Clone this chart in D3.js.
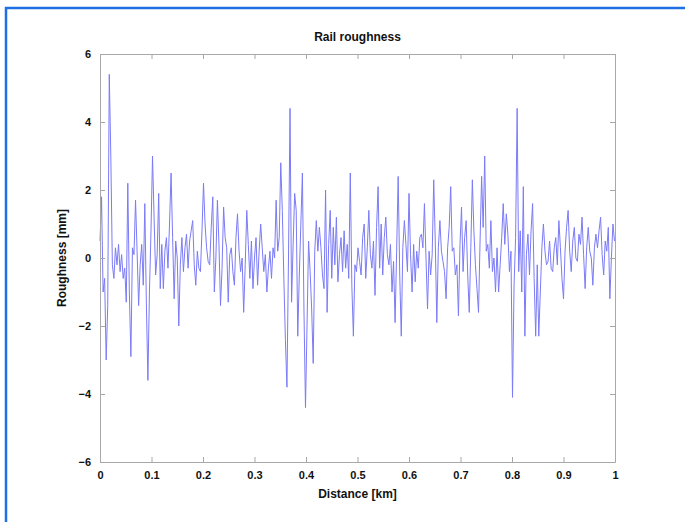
<!DOCTYPE html>
<html>
<head>
<meta charset="utf-8">
<script src="https://cdn.jsdelivr.net/npm/d3@7"></script>
<style>
  body { margin: 0; background: #fff; }
  svg { display: block; }
  text { font-family: "Liberation Sans", Arial, sans-serif; fill: #111; }
</style>
</head>
<body>
<svg id="chart"></svg>
<script>
// Track positions, metres (one sample every 3 m)
const distanceM = [
  0,3,6,9,12,15,18,21,24,27,30,33,36,39,42,45,48,51,54,57,60,63,66,69,72,75,78,81,84,87,
  90,93,96,99,102,105,108,111,114,117,120,123,126,129,132,135,138,141,144,147,150,153,156,159,162,165,168,171,174,177,
  180,183,186,189,192,195,198,201,204,207,210,213,216,219,222,225,228,231,234,237,240,243,246,249,252,255,258,261,264,267,
  270,273,276,279,282,285,288,291,294,297,300,303,306,309,312,315,318,321,324,327,330,333,336,339,342,345,348,351,354,357,
  360,363,366,369,372,375,378,381,384,387,390,393,396,399,402,405,408,411,414,417,420,423,426,429,432,435,438,441,444,447,
  450,453,456,459,462,465,468,471,474,477,480,483,486,489,492,495,498,501,504,507,510,513,516,519,522,525,528,531,534,537,
  540,543,546,549,552,555,558,561,564,567,570,573,576,579,582,585,588,591,594,597,600,603,606,609,612,615,618,621,624,627,
  630,633,636,639,642,645,648,651,654,657,660,663,666,669,672,675,678,681,684,687,690,693,696,699,702,705,708,711,714,717,
  720,723,726,729,732,735,738,741,744,747,750,753,756,759,762,765,768,771,774,777,780,783,786,789,792,795,798,801,804,807,
  810,813,816,819,822,825,828,831,834,837,840,843,846,849,852,855,858,861,864,867,870,873,876,879,882,885,888,891,894,897,
  900,903,906,909,912,915,918,921,924,927,930,933,936,939,942,945,948,951,954,957,960,963,966,969,972,975,978,981,984,987,
  990,993,996,999
];

// Roughness, mm
const roughness = [
  0.5,1.8,-1.0,-0.6,-3.0,-1.4,5.4,3.0,-0.2,-0.6,
  0.3,-0.2,0.4,-0.4,0.1,-0.6,-0.3,-1.3,2.2,-1.0,
  -2.9,0.3,0.1,1.7,0.2,-1.4,-0.2,0.4,-0.8,
  1.6,-1.3,-3.6,-1.0,0.8,3.0,1.2,-0.5,0.1,1.9,
  -0.9,0.4,-0.9,0.2,0.6,-0.3,1.0,2.5,0.6,-1.2,
  0.5,0.0,-2.0,-0.2,0.6,-0.4,0.3,0.7,-0.3,0.5,
  0.8,1.1,-0.2,-0.8,0.2,-0.3,-0.4,0.8,2.2,
  1.0,0.3,-0.1,-0.2,0.9,1.8,-1.0,0.0,1.7,0.4,
  -1.4,-0.3,1.5,0.6,0.3,-1.3,0.1,0.3,-0.4,-0.8,
  0.6,1.3,0.2,-0.4,0.0,-1.6,-0.2,1.4,0.4,
  -0.6,0.5,-0.9,0.0,0.6,-0.8,0.2,1.0,0.3,-0.4,
  0.1,-1.0,-0.3,0.2,-0.6,0.3,0.0,1.7,0.2,0.6,
  2.8,1.4,-0.6,-2.4,-3.8,0.0,4.4,-1.3,0.4,
  1.9,1.4,-2.3,-0.5,1.0,2.5,-1.5,-4.4,-2.0,0.5,
  -0.4,-1.5,-3.1,0.2,1.1,0.2,0.9,0.3,-0.5,-0.9,
  2.0,-1.6,0.4,1.4,-0.6,0.9,-0.2,1.2,-0.7,
  0.1,0.6,-0.4,0.8,-0.3,0.4,-0.6,2.5,-0.8,-2.3,
  -0.2,-0.4,0.3,-0.1,-0.5,0.6,1.0,-0.6,0.3,1.4,
  0.1,-0.3,0.5,-1.1,0.9,2.1,-0.3,1.0,-0.5,
  0.6,1.2,0.1,-0.2,0.4,-1.0,-0.1,-1.9,0.2,2.4,
  -0.5,-2.3,0.3,1.1,0.4,-0.4,1.9,0.1,-1.0,0.4,
  -0.7,0.2,-0.3,0.6,0.7,0.3,1.6,0.0,-1.5,
  0.2,-0.5,0.1,2.3,0.5,-1.9,0.3,1.1,0.2,-0.1,
  -0.4,-1.2,0.3,0.9,2.1,0.2,0.3,-0.5,-0.2,-1.7,
  0.4,1.5,-0.4,0.6,1.1,-0.5,-1.6,0.3,2.3,
  0.8,-0.2,-0.9,-1.6,0.5,2.4,0.9,3.0,0.2,0.4,
  -0.3,1.1,-0.4,0.0,-1.0,0.3,-1.0,-0.2,0.6,1.6,
  0.4,1.3,0.7,-0.4,0.2,-4.1,-0.8,0.6,4.4,
  -0.4,0.8,-1.0,2.1,-2.3,0.1,0.7,-0.5,0.8,1.6,
  -0.6,-2.3,-0.2,-2.3,-1.0,0.3,1.0,0.2,-0.2,-0.1,
  0.5,-0.3,-0.4,0.3,0.6,-0.2,1.1,0.3,-0.6,-1.2,
  0.2,0.9,1.4,0.2,-0.4,0.5,0.9,0.0,-0.1,
  0.7,0.4,1.2,0.1,-0.9,0.3,0.9,0.2,0.0,-0.8,
  0.3,0.7,0.3,0.8,1.2,0.1,-0.5,0.5,0.2,0.9,
  -1.2,0.0,1.0,0.5
];

const xTicks = [0, 0.1, 0.2, 0.3, 0.4, 0.5, 0.6, 0.7, 0.8, 0.9, 1];
const yTicks = [-6, -4, -2, 0, 2, 4, 6];

const width = 685;
const height = 522;
const margin = { top: 54, right: 70, bottom: 60, left: 100 };

const svg = d3.select("#chart")
    .attr("width", width)
    .attr("height", height);

// blue window frame (top and left edges)
svg.append("line")
    .attr("x1", 5).attr("x2", width).attr("y1", 8).attr("y2", 8)
    .attr("stroke", "#1f6fe5").attr("stroke-width", 2.5);
svg.append("line")
    .attr("x1", 6).attr("x2", 6).attr("y1", 7).attr("y2", height)
    .attr("stroke", "#1f6fe5").attr("stroke-width", 2.5);

const x = d3.scaleLinear()
    .domain([0, 1])
    .range([margin.left, width - margin.right]);

const y = d3.scaleLinear()
    .domain([-6, 6])
    .range([height - margin.bottom, margin.top]);

const points = distanceM.map((d, i) => ({ km: d / 1000, v: roughness[i] }));

// the signal
const line = d3.line()
    .x(d => x(d.km))
    .y(d => y(d.v));

svg.append("path")
    .datum(points)
    .attr("fill", "none")
    .attr("stroke", "#7b7bf7")
    .attr("stroke-width", 1)
    .attr("d", line);

// box + inward ticks, matlab style
function styleAxis(g) {
    g.select(".domain").attr("stroke", "#a8a8a8");
    g.selectAll(".tick line").attr("stroke", "#a8a8a8");
    g.selectAll(".tick text")
        .style("font-size", "11px")
        .style("font-weight", "bold")
        .attr("fill", "#111");
}

svg.append("g")
    .attr("transform", `translate(0,${height - margin.bottom})`)
    .call(d3.axisBottom(x).tickValues(xTicks).tickFormat(d3.format("")).tickSizeInner(-5).tickSizeOuter(0).tickPadding(9))
    .call(styleAxis);

svg.append("g")
    .attr("transform", `translate(0,${margin.top})`)
    .call(d3.axisTop(x).tickValues(xTicks).tickFormat("").tickSizeInner(-5).tickSizeOuter(0))
    .call(styleAxis);

svg.append("g")
    .attr("transform", `translate(${margin.left},0)`)
    .call(d3.axisLeft(y).tickValues(yTicks).tickSizeInner(-5).tickSizeOuter(0).tickPadding(9))
    .call(styleAxis);

svg.append("g")
    .attr("transform", `translate(${width - margin.right},0)`)
    .call(d3.axisRight(y).tickValues(yTicks).tickFormat("").tickSizeInner(-5).tickSizeOuter(0))
    .call(styleAxis);

svg.selectAll(".domain").attr("fill", "none");

// titles
svg.append("text")
    .attr("x", (margin.left + width - margin.right) / 2)
    .attr("y", 41)
    .attr("text-anchor", "middle")
    .style("font-size", "12px")
    .style("font-weight", "bold")
    .text("Rail roughness");

svg.append("text")
    .attr("x", (margin.left + width - margin.right) / 2)
    .attr("y", 498)
    .attr("text-anchor", "middle")
    .style("font-size", "12px")
    .style("font-weight", "bold")
    .text("Distance [km]");

svg.append("text")
    .attr("transform", `translate(66,${y(0)}) rotate(-90)`)
    .attr("text-anchor", "middle")
    .style("font-size", "12px")
    .style("font-weight", "bold")
    .text("Roughness [mm]");
</script>
</body>
</html>
